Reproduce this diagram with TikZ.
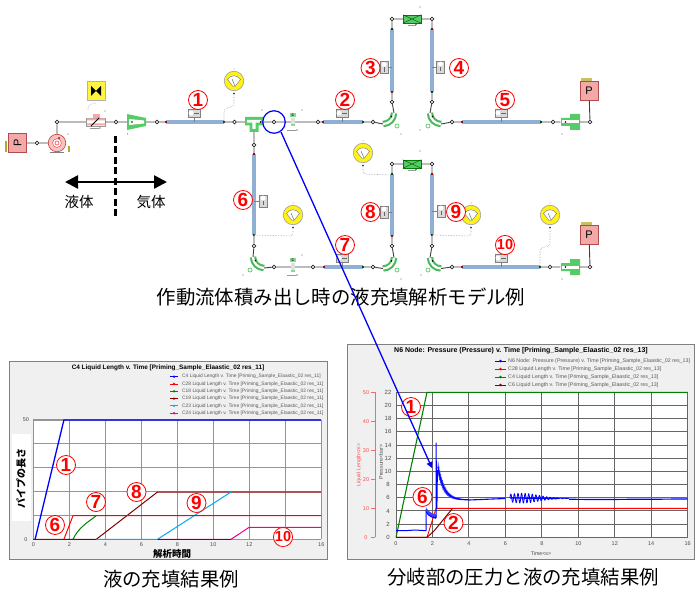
\documentclass[tikz,border=0pt]{standalone}
\usepackage{fontspec}
\setmainfont{Noto Sans CJK JP}
\newfontfamily\latf{Liberation Sans}
\usetikzlibrary{arrows.meta,calc}
\definecolor{pipeblue}{HTML}{8FB0D2}
\definecolor{gfill}{HTML}{55CC66}
\definecolor{pinkf}{HTML}{F4A9A9}
\definecolor{chartbg}{HTML}{F0F0F0}
\tikzset{
  jn/.style={circle,draw=black!85,fill=white,inner sep=0pt,minimum size=3.8pt,line width=.8pt},
  conn/.style={draw=black!75,line width=.9pt},
  pipe/.style={draw=pipeblue,line width=3.2pt},
  signal/.style={draw=black!35,line width=.6pt,densely dotted,rounded corners=3pt},
  cnum/.style={circle,draw=red,fill=white,line width=.8pt,inner sep=0pt,minimum size=19pt,text=red,font=\latf\bfseries\fontsize{19}{19}\selectfont},
  cnumb/.style={cnum,font=\latf\bfseries\fontsize{14.5}{15}\selectfont},
  caption/.style={inner sep=0pt,font=\fontsize{19.4}{20}\selectfont},
  chartframe/.style={draw=black!50,fill=chartbg,line width=.9pt},
  gridl/.style={draw=black!42,line width=1.25pt},
  gridr/.style={draw=black!60,line width=1pt},
  tick/.style={inner sep=0pt,text=black!70,font=\latf\fontsize{5.5}{6}\selectfont},
  legt/.style={inner sep=0pt,anchor=west,text=black!65,font=\latf\fontsize{4.9}{6}\selectfont},
  ctitle/.style={inner sep=0pt,font=\latf\bfseries\fontsize{6.4}{7}\selectfont},
}
\newcommand\dotm[2]{\fill[black!60] (#1,#2) circle (.6pt);}
% name, centre
\newcommand\gauge[3]{%
  \node[circle,fill=yellow!92!white,draw=black!35,line width=.7pt,minimum size=19.5pt,inner sep=0pt] (#1) at (#2,#3) {};
  \fill[white,draw=black!55,line width=.4pt] (#2-6.5,#3-1.5) .. controls (#2-3,#3-6.5) and (#2+3,#3-6.5) .. (#2+6.5,#3-1.5) -- (#2+1,#3+5.5) -- (#2-1,#3+5.5) -- cycle;
  \draw[black!65,line width=.4pt] (#2+1,#3+5) -- (#2-2,#3-2);
  \fill[black!50] (#2,#3-12) circle (.5pt);
  \fill[blue!50!black] (#2,#3+12.5) circle (.8pt);}
% horizontal sensor above a pipe
\newcommand\sensh[4]{%
  \node[draw=black!50,fill=black!15,minimum width=12pt,minimum height=8pt,inner sep=0pt,line width=.4pt] (#1) at (#2,#3) {};
  \fill[white] (#2-3,#3) circle (2.4pt);
  \draw[black!60,line width=.6pt] (#2,#3) -- (#2+4.5,#3);
  \draw[black!50,line width=.5pt] (#1.south) -- (#1.south |- #4);}
\newcommand\sensv[4]{%
  \node[draw=black!50,fill=black!15,minimum width=8pt,minimum height=12pt,inner sep=0pt,line width=.4pt] (#1) at (#2,#3) {};
  \fill[white] (#2,#3-3) circle (2.4pt);
  \draw[black!60,line width=.6pt] (#2,#3) -- (#2,#3+4.5);
  \draw[black!50,line width=.5pt] (#1) -- (#1 -| #4);}
% elbow: name, centre, x sign, ring centre
\newcommand\elbow[6]{%
  \begin{scope}[shift={(#2,#3)},xscale=#4]
    \draw[gfill!90!black,line width=6.4pt] (0,11) .. controls (6,11) and (11,6) .. (11,0);
    \draw[white,line width=2.2pt] (0,11) .. controls (6,11) and (11,6) .. (11,0);
    \coordinate (#1-a) at (0,11);
    \coordinate (#1-b) at (11,0);
    \fill[black] (8.5,3.5) circle (.8pt);
  \end{scope}
  \draw[gfill,line width=.7pt] (#5,#6) circle (2pt);}
% green heat exchanger box
\newcommand\gbox[3]{%
  \node[draw=green!50!black,fill=gfill,minimum width=18pt,minimum height=8pt,inner sep=0pt,line width=.5pt] (#1) at (#2,#3) {};
  \draw[green!30!black,line width=.4pt] (#1.north west) -- (#1.south east) (#1.south west) -- (#1.north east);
  \draw[black!40,line width=.4pt] (#2-4,#3+6) -- (#2+4,#3+6);
  \fill[black] (#2+4,#3+5.5) circle (.7pt);}
% pressure box
\newcommand\pbox[4]{%
  \node[draw=red!40!gray,fill=pinkf,minimum width=18pt,minimum height=19pt,inner sep=0pt,line width=.6pt,font=\latf\fontsize{11}{11}\selectfont] (#1) at (#2,#3) {\rotatebox{#4}{P}};}
% C valve
\newcommand\cvalve[3]{%
  \node[fill=black!12,minimum width=4pt,minimum height=8pt,inner sep=0pt] (#1) at (#2,#3) {};
  \node[fill=gfill!70,minimum width=6pt,minimum height=4pt,inner sep=0pt,font=\latf\bfseries\fontsize{3.5}{3.5}\selectfont] (#1t) at (#2,#3-7) {C};
  \fill[gfill!70] (#2-2,#3+2.5) rectangle (#2+2,#3+4.5);
  \draw[black!40,line width=.4pt] (#2-6,#3+8) -- (#2+3,#3+8);
  \fill[black] (#2+4,#3+8) circle (.7pt);}
% reducer at the right end
\newcommand\reducer[3]{%
  \node[minimum width=19pt,minimum height=8pt,inner sep=0pt] (#1) at (#2,#3) {};
  \fill[gfill] (#2-9,#3-4) -- (#2,#3-4) -- (#2,#3-8) -- (#2+10,#3-8) -- (#2+10,#3+8) -- (#2,#3+8) -- (#2,#3+4) -- (#2-9,#3+4) -- cycle;
  \fill[white] (#2-8,#3-1.5) rectangle (#2+9,#3+1.5);
  \fill[black] (#2-4.5,#3) circle (.8pt);
  \fill[black!60] (#2-8,#3+12) circle (.6pt);}
\begin{document}
\begin{tikzpicture}[x=1pt,y=-1pt]
\useasboundingbox (0,0) rectangle (700,593);
% ---------- junctions
\foreach \n/\x/\y in {j1/37/143,j2/57/122,j3/116/122,j4/157/122,j5/234.5/122,j6/274/122,j7/318/122,j8/373/122,j9/392/102,
  j10/392/19,j11/432/19,j12/432/102,j13/452/122,j14/553/122,j15/590/122,
  j16/254/145,j17/254/246,j18/274/267,j19/313/267,j20/373/267,j21/392/246,j22/392/164,j23/432/164,j24/432/246,j25/452/267,j26/550/267,j27/590/267}
  {\node[jn] (\n) at (\x,\y) {};}
% ---------- pipes
\foreach \n/\ax/\ay/\bx/\by in {p1/166/122/224/122,p2/323/122/363/122,p3/392/92/392/29,p4/432/29/432/92,p5/462/122/541/122,
  p6/254/154/254/235,p7/324/267/363/267,p8/392/236/392/174,p9/432/174/432/235,p10/462/267/540/267}
  {\coordinate (\n a) at (\ax,\ay); \coordinate (\n b) at (\bx,\by);
   \draw[pipe] (\n a) -- (\n b);
   \fill[red!70!black] (\ax-1.2,\ay-1.2) rectangle (\ax+1.2,\ay+1.2);
   \fill[green!30!black] (\bx-1.2,\by-1.2) rectangle (\bx+1.2,\by+1.2);}
% ---------- components
\pbox{P1}{17.5}{143}{90}
\fill[olive!70] (5,141) rectangle (7,152);
\pbox{P2}{589}{91}{0}
\fill[olive!50] (581,78.5) rectangle (592,81);
\pbox{P3}{589}{235}{0}
\fill[olive!50] (581,222.5) rectangle (592,225);
% pump
\node[circle,fill=pinkf!70,draw=red!50!gray,line width=.6pt,minimum size=17.5pt,inner sep=0pt] (pump) at (57,143) {};
\fill[white] (57,143) circle (5pt);
\draw[red!60,line width=.8pt] (57,143) circle (4.5pt) (57,143) circle (2pt);
\draw[black!50,line width=.9pt] (50,152.5) -- (64,152.5);
\fill[black] (59,138) circle (.9pt);
\fill[olive!70] (67.5,146) rectangle (69.5,152);
\dotm{68}{134}
% valve
\node[draw=black!40,fill=white,minimum width=19pt,minimum height=8pt,inner sep=0pt,line width=.4pt] (valve) at (95.5,122) {};
\fill[pinkf] (87,118.5) rectangle (105,120.5) (87,123.5) rectangle (105,125.5);
\fill[pinkf] (92.5,114.5) rectangle (99.5,118);
\draw[black,line width=.8pt] (91,126) -- (99,118);
\draw[black!40,line width=.4pt] (90,128) -- (99,128); \fill[black] (100,128) circle (.7pt);
\dotm{105}{111}
% yellow actuator
\node[fill=yellow!75!white,draw=black!30,line width=.6pt,minimum width=18pt,minimum height=19pt,inner sep=0pt] (act) at (96,91) {};
\fill[black] (91,86) -- (96,91) -- (91,96) -- cycle (101,86) -- (96,91) -- (101,96) -- cycle;
\coordinate (actb) at (96,103);
\coordinate (valt) at (88,110);
\draw[signal] (actb) -- (88,105) -- (valt);
% nozzle
\node[minimum width=19pt,minimum height=10pt,inner sep=0pt] (noz) at (136.5,122) {};
\fill[gfill] (127,114) -- (146,118) -- (146,126) -- (127,130) -- cycle;
\fill[white] (129,119) -- (144,120.5) -- (144,123.5) -- (129,125) -- cycle;
\fill[black] (132,122) circle (.8pt);
\dotm{127.5}{134}
% tee
\node[minimum width=18pt,minimum height=8pt,inner sep=0pt] (tee) at (254,122) {};
\fill[gfill] (245,117) -- (263,117) -- (263,125.5) -- (258.5,125.5) -- (258.5,132) -- (249.5,132) -- (249.5,125.5) -- (245,125.5) -- cycle;
\fill[white] (247,119.8) -- (261,119.8) -- (261,122.6) -- (255.6,122.6) -- (255.6,129) -- (252.4,129) -- (252.4,122.6) -- (247,122.6) -- cycle;
\fill[black] (260.5,122) circle (.8pt);
\dotm{262}{110}
\coordinate (teeb) at (254,132);
% C valves
\cvalve{cv1}{293}{122}
\dotm{302}{110}
\cvalve{cv2}{293}{267}
\dotm{302}{255}
% elbows
\elbow{e1}{383}{113}{1}{397}{126}
\elbow{e2}{441}{113}{-1}{428}{126}
\elbow{e3}{264}{257}{-1}{250}{270}
\elbow{e4}{383}{257.5}{1}{397}{270}
\elbow{e5}{441}{257.5}{-1}{428}{270}
\dotm{401}{134}\dotm{420}{130}\dotm{401}{279}\dotm{421}{275}\dotm{243}{275}
% heat exchangers
\gbox{g1}{412}{19}
\gbox{g2}{412}{164}
\dotm{420}{7}\dotm{420}{151}
% reducers
\reducer{r1}{570}{122}
\reducer{r2}{570}{267}
% ---------- connectors
\draw[conn] (P1) -- (j1) (j1) -- (pump) (pump) -- (j2) (j2) -- (valve) (valve) -- (j3) (j3) -- (noz) (noz) -- (j4) (j4) -- (p1a)
 (p1b) -- (j5) (j5) -- (tee) (tee) -- (j6) (j6) -- (cv1) (cv1) -- (j7) (j7) -- (p2a) (p2b) -- (j8) (j8) -- (e1-a) (e1-b) -- (j9) (j9) -- (p3a)
 (p3b) -- (j10) (j10) -- (g1) (g1) -- (j11) (j11) -- (p4a) (p4b) -- (j12) (j12) -- (e2-b) (e2-a) -- (j13) (j13) -- (p5a) (p5b) -- (j14) (j14) -- (r1) (r1) -- (j15) (j15) -- (P2)
 (teeb) -- (j16) (j16) -- (p6a) (p6b) -- (j17) (j17) -- (e3-b) (e3-a) -- (j18) (j18) -- (cv2) (cv2) -- (j19) (j19) -- (p7a) (p7b) -- (j20) (j20) -- (e4-a) (e4-b) -- (j21) (j21) -- (p8a)
 (p8b) -- (j22) (j22) -- (g2) (g2) -- (j23) (j23) -- (p9a) (p9b) -- (j24) (j24) -- (e5-b) (e5-a) -- (j25) (j25) -- (p10a) (p10b) -- (j26) (j26) -- (r2) (r2) -- (j27) (j27) -- (P3);
% ---------- sensors
\sensh{s1}{194}{113}{p1a}
\sensh{s2}{342}{113}{p2a}
\sensh{s5}{501}{113}{p5a}
\sensh{s7}{342}{258}{p7a}
\sensh{s10}{501}{258}{p10a}
\sensv{s3}{384}{67.5}{p3a}
\sensv{s4}{440.5}{67}{p4a}
\sensv{s6}{263}{201}{p6a}
\sensv{s8}{384}{212}{p8a}
\sensv{s9}{441}{211}{p9a}
% ---------- gauges
\gauge{ga1}{234}{81}
\gauge{ga2}{293}{215}
\gauge{ga3}{363}{153}
\gauge{ga4}{471}{215}
\gauge{ga5}{550}{215}
\coordinate (ga1e) at (234,94); \coordinate (ga2e) at (293,228); \coordinate (ga3e) at (363,166); \coordinate (ga4e) at (471,228); \coordinate (ga5e) at (550,228);
\draw[signal] (ga1e) -- (234,106) -- (224,109) -- (p1b);
\draw[signal] (ga2e) -- (293,236) -- (p6b);
\draw[signal] (ga3e) -- (363,174) -- (392,175);
\draw[signal] (ga4e) -- (471,236) -- (p9b);
\draw[signal] (ga5e) -- (550,246) -- (540,248) -- (p10b);
% ---------- liquid / gas divider
\coordinate (da) at (115.5,136); \coordinate (db) at (115.5,216);
\coordinate (la) at (65,182); \coordinate (lb) at (167,182);
\draw[black,line width=2.6pt,dash pattern=on 7pt off 3.5pt] (da) -- (db);
\draw[{Triangle[length=13pt,width=13pt]}-{Triangle[length=13pt,width=13pt]},line width=2.4pt] (la) -- (lb);
\node[inner sep=0pt,font=\fontsize{14.5}{15}\selectfont] (tl) at (79,202) {液体};
\node[inner sep=0pt,font=\fontsize{14.5}{15}\selectfont] (tg) at (151,202) {気体};
% ---------- circled numbers (model)
\node[cnum] (a1) at (198,100) {1};
\node[cnum] (a2) at (345,100) {2};
\node[cnum] (a3) at (370.5,68) {3};
\node[cnum] (a4) at (459,68) {4};
\node[cnum] (a5) at (505,100) {5};
\node[cnum] (a6) at (243,200) {6};
\node[cnum] (a7) at (345,245) {7};
\node[cnum] (a8) at (370.5,212) {8};
\node[cnum] (a9) at (456,212) {9};
\node[cnumb] (a10) at (505,245) {10};
\node[caption] (cap1) at (341,297) {作動流体積み出し時の液充填解析モデル例};
% ---------- left chart
\fill[chartframe] (9,361) rectangle (327,559);
\fill[white] (33.3,420) rectangle (321,539.3);
\fill[white] (12,434) rectangle (31,521);
\foreach \i in {0,...,8} {\draw[gridl] ({33.3+36*\i},420) -- ({33.3+36*\i},539.3);
  \pgfmathtruncatemacro\lab{2*\i}
  \node[tick] (lx\i) at ({33.3+36*\i},545) {\lab};}
\foreach \i in {0,...,5} {\draw[gridl] (33.3,{420+23.86*\i}) -- (321,{420+23.86*\i});}
\node[tick] (ly50) at (26,420) {50};
\node[tick] (ly0) at (26,539.3) {0};
\node[ctitle] (ltitle) at (168,368) {C4 Liquid Length v. Time [Priming\_Sample\_Elaastic\_02 res\_11]};
\node[inner sep=0pt,rotate=90,font=\bfseries\fontsize{10}{10}\selectfont] (lyl) at (21,478) {パイプの長さ};
\node[inner sep=0pt,font=\bfseries\fontsize{9.5}{10}\selectfont] (lxl) at (172,553.5) {解析時間};
\foreach \c/\y/\t in {blue/376.7/C4,red/384/C28,green!50!black/391.3/C18,red!50!black/398.6/C19,cyan/405.9/C23,magenta/413.2/C24}{
  \draw[\c,line width=.9pt] (170,\y) -- (178,\y); \fill[\c] (174,\y) circle (1.3pt);
  \node[legt] at (182,\y) {\t{} Liquid Length v. Time [Priming\_Sample\_Elaastic\_02 res\_11]};}
% curves
\draw[red!50!black,line width=1pt] (33.3,539.3) -- (96.3,539.3) -- (157.5,492) -- (321,492);
\draw[cyan,line width=1pt] (96.3,539.3) -- (157.5,539.3) -- (231,492);
\draw[magenta,line width=1pt] (157.5,539.3) -- (231,539.3) -- (249,527.4) -- (321,527.4);
\draw[violet!80!black,line width=.9pt] (157.5,539.3) -- (231,539.3);
\draw[red,line width=1pt] (63.9,539.3) -- (73,515.7) -- (321,515.7);
\draw[green!50!black,line width=1pt] (73,539.3) .. controls (78,528) and (88,522) .. (96.3,515.7);
\draw[red!60!black,line width=1pt] (33.3,539.3) -- (63.9,539.3);
\draw[blue,line width=1.3pt] (35.1,539.3) -- (63.9,420) -- (321,420);
\node[cnum] (b1) at (66,465) {1};
\node[cnum] (b6) at (55,525) {6};
\node[cnum] (b7) at (96,502) {7};
\node[cnum] (b8) at (136.5,492) {8};
\node[cnum] (b9) at (196.5,503) {9};
\node[cnumb] (b10) at (283,537) {10};
\node[caption] (cap2) at (171,579) {液の充填結果例};
% ---------- right chart
\fill[chartframe] (347,344) rectangle (694,559);
\fill[white] (396,392.3) rectangle (687.7,537.3);
\foreach \i in {0,...,8} {\draw[gridr] ({396+36.46*\i},392.3) -- ({396+36.46*\i},537.3);
  \pgfmathtruncatemacro\lab{2*\i}
  \node[tick] (rx\i) at ({396+36.46*\i},544) {\lab};}
\foreach \i in {0,...,11} {\draw[gridr] (396,{537.3-13.18*\i}) -- (687.7,{537.3-13.18*\i});
  \pgfmathtruncatemacro\lab{2*\i}
  \node[tick,font=\latf\fontsize{6}{6}\selectfont] (ry\i) at (388,{537.3-13.18*\i}) {\lab};}
\node[ctitle,font=\latf\bfseries\fontsize{7}{8}\selectfont] (rtitle) at (521,351) {N6 Node: Pressure (Pressure) v. Time [Priming\_Sample\_Elaastic\_02 res\_13]};
\draw[red!60,line width=.7pt] (375,392.3) -- (375,537.3);
\foreach \v/\y in {0/537.3,10/508.3,20/479.3,30/450.3,40/421.3,50/392.3} {
  \draw[red!60,line width=.7pt] (371,\y) -- (375,\y);
  \node[tick,text=red!70] (rr\v) at (366,\y) {\v};}
\node[inner sep=0pt,rotate=90,text=red!70,font=\latf\fontsize{5.3}{6}\selectfont] (rred) at (359,465) {Liquid Length<m>};
\node[inner sep=0pt,rotate=90,text=black!70,font=\latf\fontsize{5.3}{6}\selectfont] (rpre) at (381,462) {Pressure<bar>};
\node[inner sep=0pt,text=black!70,font=\latf\fontsize{5.3}{6}\selectfont] (rtime) at (541,553.5) {Time<s>};
\foreach \c/\y/\t in {blue/361/N6 Node: Pressure (Pressure) v. Time [Priming\_Sample\_Elaastic\_02 res\_13],
   red/369/C28 Liquid Length v. Time [Priming\_Sample\_Elaastic\_02 res\_13],
   green!50!black/377/C4 Liquid Length v. Time [Priming\_Sample\_Elaastic\_02 res\_13],
   red!50!black/385/C6 Liquid Length v. Time [Priming\_Sample\_Elaastic\_02 res\_13]}{
  \draw[\c,line width=.9pt] (495,\y) -- (506,\y); \fill[\c] (500.5,\y) circle (1.3pt);
  \node[legt,font=\latf\fontsize{5.3}{6}\selectfont] at (508,\y) {\t};}
\begin{scope}[line join=round]
\draw[green!50!black,line width=1.1pt] (396,537.3) -- (427,392.3) -- (687.7,392.3);
\draw[red,line width=.9pt] (396,537.3) -- (427,537.3) -- (436.1,508.3) -- (687.7,508.3);
\draw[red!50!black,line width=1pt] (396,537.3) -- (427,537.3) -- (434,531) -- (452,509);
% pressure
\draw[blue,line width=1pt] (396,530.7) -- (405,530.7) -- (415,530) -- (426,530.7) -- (426,509.3);
\draw[blue!75,line width=.5pt,domain=1.65:2.2,samples=60] plot ({396+18.23*\x},{537.3-6.59*(3+1.2*exp(-(\x-1.65)*4)+.35*sin((\x-1.65)*150 r))});
\draw[blue,line width=.9pt,domain=1.65:2.2,samples=30] plot ({396+18.23*\x},{537.3-6.59*(2.9+1*exp(-(\x-1.65)*5))});
\draw[blue,line width=.8pt] (436.1,518) -- (436.1,443) -- (437,508) -- (437.5,470);
\draw[blue!75,line width=.5pt,domain=2.3:3.6,samples=160] plot ({396+18.23*\x},{537.3-6.59*(5.65+5*exp(-(\x-2.3)*3)+1.1*exp(-(\x-2.3)*2)*sin((\x-2.3)*130 r))});
\draw[blue,line width=1.2pt,domain=2.3:4,samples=50] plot ({396+18.23*\x},{537.3-6.59*(5.65+5*exp(-(\x-2.3)*3))});
\draw[blue,line width=1.1pt] (469,500) -- (505,498.5);
\draw[blue,line width=.8pt,domain=6.25:9.5,samples=260] plot ({396+18.23*\x},{537.3-6.59*(5.95-.015*(\x-6.25)+(.75*exp(-(\x-6.9)*(\x-6.9)*.6))*sin((\x-6.25)*32 r))});
\draw[blue,line width=1.2pt] (510,498) -- (558,498.5) (569,499.3) -- (600,499.5) -- (687.7,499);
\end{scope}
\node[cnum] (c1) at (411,407) {1};
\node[cnum] (c6) at (422.5,497) {6};
\node[cnum] (c2) at (453.5,523) {2};
\node[caption] (cap3) at (523,577) {分岐部の圧力と液の充填結果例};
% ---------- link circle and arrow
\node[circle,draw=blue,line width=1.2pt,minimum size=22.5pt,inner sep=0pt] (ring) at (274,122) {};
\coordinate (arrowstart) at (281,132);
\coordinate (arrowend) at (432,468);
\draw[blue,line width=1.3pt,-{Triangle[length=6pt,width=6pt]}] (arrowstart) -- (arrowend);
\end{tikzpicture}
\end{document}
